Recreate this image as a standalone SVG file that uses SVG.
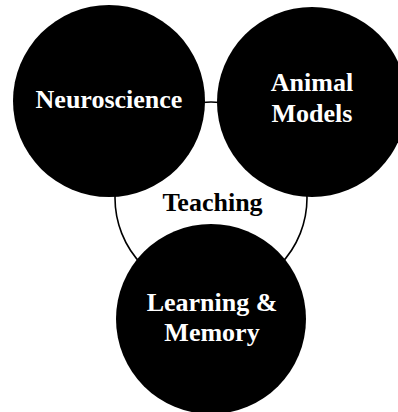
<svg xmlns="http://www.w3.org/2000/svg" width="398" height="412" viewBox="0 0 398 412">
<style>
.node{fill:#000;}
.lbl{font-family:"Liberation Serif","Times New Roman",serif;font-weight:bold;font-size:26px;text-anchor:middle;fill:#fff;}
.conn{fill:none;stroke:#000;stroke-width:1.6;}
</style>
<rect width="398" height="412" fill="#fff"/>
<g id="connectors">
<circle class="conn" cx="211" cy="198" r="96"/>
</g>
<g id="neuroscience">
<circle class="node" cx="109" cy="101" r="96"/>
<text class="lbl" x="109" y="108">Neuroscience</text>
</g>
<g id="animal-models">
<circle class="node" cx="312" cy="102" r="95"/>
<text class="lbl" x="312" y="91">Animal</text>
<text class="lbl" x="312" y="122">Models</text>
</g>
<g id="learning-memory">
<circle class="node" cx="211" cy="319" r="95"/>
<text class="lbl" x="212" y="311">Learning &amp;</text>
<text class="lbl" x="212" y="341">Memory</text>
</g>
<text class="lbl" x="212.5" y="211" style="fill:#000">Teaching</text>
</svg>
